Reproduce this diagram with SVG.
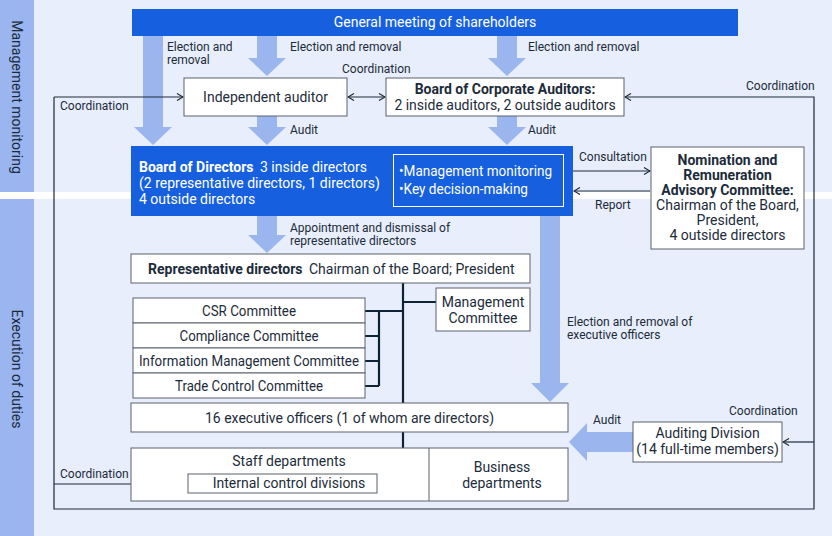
<svg xmlns="http://www.w3.org/2000/svg" width="832" height="536" viewBox="0 0 832 536">
<defs>
<marker id="ah" viewBox="0 0 8 8" refX="7" refY="4" markerWidth="8" markerHeight="8" markerUnits="userSpaceOnUse" orient="auto-start-reverse">
<path d="M1,0.5 L7,4 L1,7.5" fill="none" stroke="#1c2b3a" stroke-width="1.2"/>
</marker>
<style>
text{font-family:Roboto,"Liberation Sans",sans-serif;fill:#1c2b3a}
.t14{font-size:14px}
.t12{font-size:12px}
.b{font-weight:bold}
.w{fill:#ffffff}
.c{text-anchor:middle}
.box{fill:#ffffff;stroke:#5a636d;stroke-width:1}
.blue{fill:#1660e0}
.arr{fill:#9bb6ef}
.thin{fill:none;stroke:#1c2b3a;stroke-width:1.2}
.thick{fill:none;stroke:#0e2436;stroke-width:2.2}
</style>
</defs>
<!-- background -->
<rect x="0" y="0" width="832" height="536" fill="#e8eefb"/>
<rect x="0" y="0" width="34" height="192" fill="#9ab5ef"/>
<rect x="0" y="199" width="34" height="337" fill="#9ab5ef"/>
<rect x="0" y="192" width="832" height="7" fill="#ffffff"/>
<text class="t14" transform="translate(17,97) rotate(90)" text-anchor="middle" dominant-baseline="central">Management monitoring</text>
<text class="t14" transform="translate(17,369) rotate(90)" text-anchor="middle" dominant-baseline="central">Execution of duties</text>

<!-- big arrows -->
<g id="big-arrows">
<polygon class="arr" points="143,36 163,36 163,127 172,127 153,145 134,127 143,127"/>
<polygon class="arr" points="257,36 277,36 277,58 286,58 267,76 248,58 257,58"/>
<polygon class="arr" points="257,116 277,116 277,127 286,127 267,145 248,127 257,127"/>
<polygon class="arr" points="497,36 517,36 517,58 526,58 507,76 488,58 497,58"/>
<polygon class="arr" points="497,116 517,116 517,127 526,127 507,145 488,127 497,127"/>
<polygon class="arr" points="257,216 277,216 277,235 286,235 267,253 248,235 257,235"/>
<polygon class="arr" points="540,216 560,216 560,383 569,383 550,402 531,383 540,383"/>
<polygon class="arr" points="633,432 633,452 587,452 587,461 569,442 587,423 587,432"/>
</g>

<!-- connectors -->
<g id="connectors">
<path class="thin" d="M54,97 H183" marker-end="url(#ah)"/>
<path class="thin" d="M54,97 V509 H814 V97 H625" marker-end="url(#ah)"/>
<path class="thin" d="M814,442 H783" marker-end="url(#ah)"/>
<path class="thin" d="M54,484 H188" marker-end="url(#ah)"/>
<path class="thin" d="M348,97 H385" marker-start="url(#ah)" marker-end="url(#ah)"/>
<path class="thin" d="M573,171 H650" marker-end="url(#ah)"/>
<path class="thin" d="M650,191 H574" marker-end="url(#ah)"/>
<path class="thick" d="M403,283 V403 M403,432 V448 M403,302 H436 M365,311 H403 M379,311 V386 M365,336 H379 M365,361 H379 M365,386 H379"/>
</g>

<!-- labels -->
<g id="labels">
<text class="t12" x="167" y="51">Election and</text>
<text class="t12" x="167" y="64">removal</text>
<text class="t12" x="290" y="51">Election and removal</text>
<text class="t12" x="528" y="51">Election and removal</text>
<text class="t12" x="342" y="73">Coordination</text>
<text class="t12" x="60" y="110">Coordination</text>
<text class="t12" x="746" y="90">Coordination</text>
<text class="t12" x="290" y="134">Audit</text>
<text class="t12" x="528" y="134">Audit</text>
<text class="t12" x="579" y="161">Consultation</text>
<text class="t12" x="595" y="209">Report</text>
<text class="t12" x="290" y="232">Appointment and dismissal of</text>
<text class="t12" x="290" y="245">representative directors</text>
<text class="t12" x="567" y="326">Election and removal of</text>
<text class="t12" x="567" y="339">executive officers</text>
<text class="t12" x="729" y="415">Coordination</text>
<text class="t12" x="593" y="424">Audit</text>
<text class="t12" x="60" y="478">Coordination</text>
</g>

<!-- nodes -->
<g id="gms">
<rect class="blue" x="132" y="9" width="606" height="27"/>
<text class="t14 w c" x="435" y="27">General meeting of shareholders</text>
</g>
<g id="independent-auditor">
<rect class="box" x="184" y="78" width="163" height="38"/>
<text class="t14 c" x="265.5" y="102">Independent auditor</text>
</g>
<g id="board-corporate-auditors">
<rect class="box" x="386" y="78" width="238" height="38"/>
<text class="t14 c b" x="505" y="94">Board of Corporate Auditors:</text>
<text class="t14 c" x="505" y="110">2 inside auditors, 2 outside auditors</text>
</g>
<g id="board-of-directors">
<rect class="blue" x="131" y="146" width="442" height="70"/>
<text class="t14 w b" x="139" y="172">Board of Directors</text>
<text class="t14 w" x="260" y="172">3 inside directors</text>
<text class="t14 w" x="139" y="188">(2 representative directors, 1 directors)</text>
<text class="t14 w" x="139" y="204">4 outside directors</text>
<rect x="393.5" y="154.5" width="170" height="52" fill="none" stroke="#ffffff" stroke-width="1"/>
<text class="t14 w" x="399" y="176" textLength="153" lengthAdjust="spacingAndGlyphs">•Management monitoring</text>
<text class="t14 w" x="399" y="194" textLength="129" lengthAdjust="spacingAndGlyphs">•Key decision-making</text>
</g>
<g id="nomination-committee">
<rect class="box" x="651" y="147" width="153" height="102"/>
<text class="t14 c b" x="727.5" y="165">Nomination and</text>
<text class="t14 c b" x="727.5" y="180">Remuneration</text>
<text class="t14 c b" x="727.5" y="195">Advisory Committee:</text>
<text class="t14 c" x="727.5" y="210">Chairman of the Board,</text>
<text class="t14 c" x="727.5" y="225">President,</text>
<text class="t14 c" x="727.5" y="240">4 outside directors</text>
</g>
<g id="representative-directors">
<rect class="box" x="131" y="254" width="399" height="29"/>
<text class="t14 b" x="148" y="274">Representative directors</text>
<text class="t14" x="309" y="274">Chairman of the Board; President</text>
</g>
<g id="management-committee">
<rect class="box" x="436" y="288" width="94" height="43"/>
<text class="t14 c" x="483" y="307">Management</text>
<text class="t14 c" x="483" y="323">Committee</text>
</g>
<g id="csr-committee">
<rect class="box" x="133" y="298" width="232" height="25"/>
<text class="t14 c" x="249" y="316" textLength="94" lengthAdjust="spacingAndGlyphs">CSR Committee</text>
</g>
<g id="compliance-committee">
<rect class="box" x="133" y="323" width="232" height="25"/>
<text class="t14 c" x="249" y="341" textLength="139" lengthAdjust="spacingAndGlyphs">Compliance Committee</text>
</g>
<g id="information-management-committee">
<rect class="box" x="133" y="348" width="232" height="25"/>
<text class="t14 c" x="249" y="366" textLength="220" lengthAdjust="spacingAndGlyphs">Information Management Committee</text>
</g>
<g id="trade-control-committee">
<rect class="box" x="133" y="373" width="232" height="25"/>
<text class="t14 c" x="249" y="391" textLength="148" lengthAdjust="spacingAndGlyphs">Trade Control Committee</text>
</g>
<g id="executive-officers">
<rect class="box" x="131" y="403" width="437" height="29"/>
<text class="t14 c" x="349.5" y="423">16 executive officers (1 of whom are directors)</text>
</g>
<g id="departments">
<rect class="box" x="131" y="448" width="437" height="53"/>
<line x1="429" y1="448" x2="429" y2="501" stroke="#5a636d" stroke-width="1"/>
<text class="t14 c" x="289" y="466">Staff departments</text>
<text class="t14 c" x="502" y="472">Business</text>
<text class="t14 c" x="502" y="488">departments</text>
</g>
<g id="internal-control-divisions">
<rect class="box" x="188" y="474" width="189" height="19"/>
<text class="t14 c" x="289" y="488">Internal control divisions</text>
</g>
<g id="auditing-division">
<rect class="box" x="633" y="422" width="149" height="40"/>
<text class="t14 c" x="707.5" y="438">Auditing Division</text>
<text class="t14 c" x="707.5" y="454">(14 full-time members)</text>
</g>
</svg>
